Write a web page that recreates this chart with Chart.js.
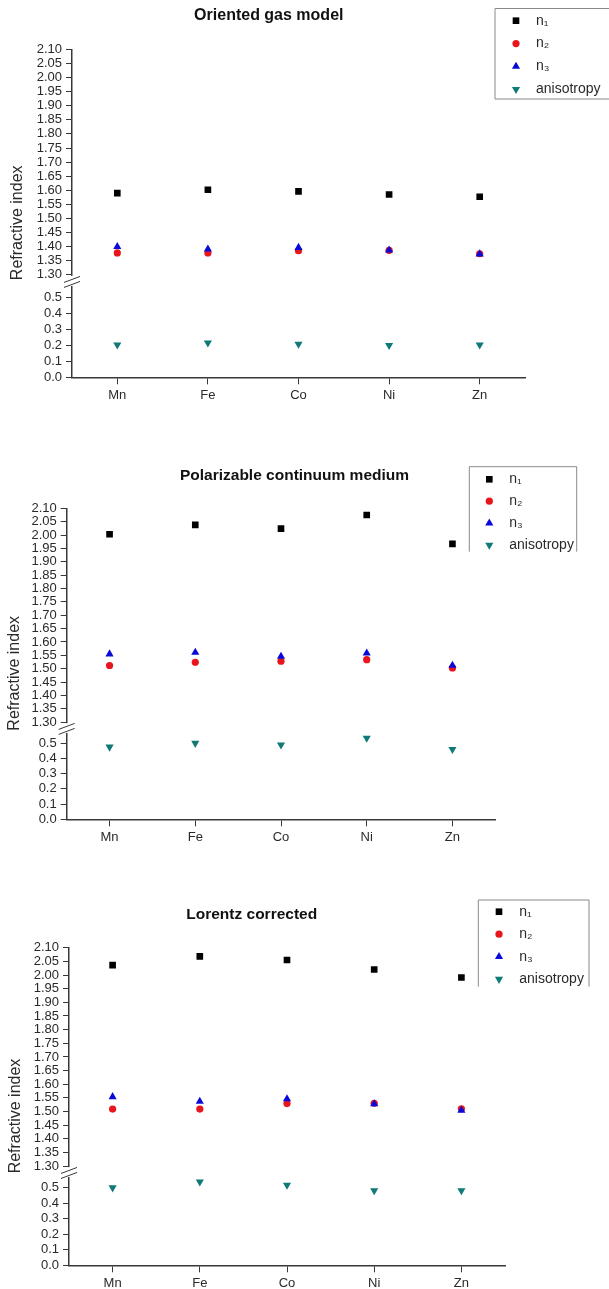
<!DOCTYPE html>
<html><head><meta charset="utf-8">
<script src="https://cdn.jsdelivr.net/npm/chart.js@4.4.1/dist/chart.umd.min.js"></script>
<style>
html,body{margin:0;padding:0;background:#fff;}
body{width:609px;height:1289px;position:relative;overflow:hidden;}
canvas{position:absolute;left:0;}
</style></head><body>
<canvas id="c1" width="609" height="430" style="top:0px"></canvas>
<canvas id="c2" width="609" height="430" style="top:430px"></canvas>
<canvas id="c3" width="609" height="440" style="top:860px"></canvas>
<script>
// ---------- data ----------
const categories = ['Mn', 'Fe', 'Co', 'Ni', 'Zn'];
const seriesLabels = ['n₁', 'n₂', 'n₃', 'anisotropy'];
const upperTicks = [1.30, 1.35, 1.40, 1.45, 1.50, 1.55, 1.60, 1.65, 1.70, 1.75, 1.80, 1.85, 1.90, 1.95, 2.00, 2.05, 2.10];
const lowerTicks = [0.0, 0.1, 0.2, 0.3, 0.4, 0.5];
const panelTitles = ['Oriented gas model', 'Polarizable continuum medium', 'Lorentz corrected'];
const yAxisTitle = 'Refractive index';

// Oriented gas model
const ogm_n1 = [1.590, 1.602, 1.596, 1.585, 1.577];
const ogm_n2 = [1.378, 1.378, 1.386, 1.387, 1.375];
const ogm_n3 = [1.400, 1.391, 1.397, 1.388, 1.374];
const ogm_aniso = [0.203, 0.215, 0.207, 0.199, 0.203];

// Polarizable continuum medium
const pcm_n1 = [2.003, 2.038, 2.024, 2.075, 1.967];
const pcm_n2 = [1.512, 1.524, 1.528, 1.534, 1.503];
const pcm_n3 = [1.555, 1.561, 1.546, 1.558, 1.512];
const pcm_aniso = [0.476, 0.501, 0.490, 0.534, 0.461];

// Lorentz corrected
const lc_n1 = [2.036, 2.068, 2.055, 2.020, 1.991];
const lc_n2 = [1.509, 1.509, 1.529, 1.530, 1.510];
const lc_n3 = [1.554, 1.537, 1.546, 1.528, 1.504];
const lc_aniso = [0.500, 0.538, 0.517, 0.481, 0.481];

// ---------- styles / layout ----------
const upperMin = 1.275, lowerMax = 0.595;
const markerStyles = [
  {pointStyle: 'rect', radius: 4.7, color: '#000000', rotation: 0, order: 3},
  {pointStyle: 'circle', radius: 3.6, color: '#e8151c', rotation: 0, order: 2},
  {pointStyle: 'triangle', radius: 4.7, color: '#0a0ad8', rotation: 0, order: 1},
  {pointStyle: 'triangle', radius: 4.7, color: '#0f7a78', rotation: 180, order: 0}
];
const TEXT = '#2a2a2a';
const AXIS = '#383838';

const panels = [
  {id: 'c1', top: 0, h: 430, title: panelTitles[0], series: [ogm_n1, ogm_n2, ogm_n3, ogm_aniso],
   area: {l: 72, r: 525, t: 49.3, b: 377.3}, titleX: 268.8, titleY: 16, titleSize: 16, yTitleX: 18,
   legend: {l: 495, t: 8.5, r: 640, b: 99, mx: 516, tx: 536, y0: 20.7, dy: 22.9, bottom: true}},
  {id: 'c2', top: 430, h: 430, title: panelTitles[1], series: [pcm_n1, pcm_n2, pcm_n3, pcm_aniso],
   area: {l: 66.7, r: 495.3, t: 508.3, b: 819.3}, titleX: 294.5, titleY: 476, titleSize: 15.5, yTitleX: 14.5,
   legend: {l: 469.3, t: 466.7, r: 576.7, b: 551.7, mx: 489.3, tx: 509.3, y0: 479.3, dy: 21.9, bottom: false}},
  {id: 'c3', top: 860, h: 440, title: panelTitles[2], series: [lc_n1, lc_n2, lc_n3, lc_aniso],
   area: {l: 69, r: 505, t: 947.7, b: 1265.3}, titleX: 251.7, titleY: 915, titleSize: 15.5, yTitleX: 16,
   legend: {l: 478.3, t: 900, r: 589, b: 986.7, mx: 499, tx: 519.3, y0: 911.7, dy: 22.5, bottom: false}}
];

function drawMarker(ctx, style, x, y, r, rotation, color) {
  ctx.save();
  ctx.fillStyle = color;
  ctx.beginPath();
  if (style === 'rect') {
    const s = Math.SQRT1_2 * r;
    ctx.rect(x - s, y - s, 2 * s, 2 * s);
  } else if (style === 'circle') {
    ctx.arc(x, y, r, 0, Math.PI * 2);
  } else {
    let rad = rotation * Math.PI / 180;
    ctx.moveTo(x + Math.sin(rad) * r, y - Math.cos(rad) * r);
    rad += 2 * Math.PI / 3;
    ctx.lineTo(x + Math.sin(rad) * r, y - Math.cos(rad) * r);
    rad += 2 * Math.PI / 3;
    ctx.lineTo(x + Math.sin(rad) * r, y - Math.cos(rad) * r);
    ctx.closePath();
  }
  ctx.fill();
  ctx.restore();
}

const decorPlugin = {
  id: 'decor',
  afterDraw(chart, args, opts) {
    const p = opts.panel;
    const ctx = chart.ctx;
    const ca = chart.chartArea;
    const yT = chart.scales.yTop, yB = chart.scales.yBot;
    ctx.save();
    // axis break
    const L = ca.left;
    const yb = Math.max(yT.bottom, yB.top);
    const y130 = yT.getPixelForValue(upperTicks[0]);
    ctx.fillStyle = '#ffffff';
    ctx.fillRect(L - 3, y130 + 1, 6, (yb + 4) - (y130 + 1));
    ctx.strokeStyle = AXIS;
    ctx.lineWidth = 1;
    ctx.beginPath();
    [-2.5, 2.5].forEach(d => {
      ctx.moveTo(L - 8, yb + d + 3);
      ctx.lineTo(L + 8, yb + d - 3);
    });
    ctx.stroke();
    // title
    ctx.fillStyle = '#111111';
    ctx.font = 'bold ' + p.titleSize + 'px "Liberation Sans", Arial, sans-serif';
    ctx.textAlign = 'center';
    ctx.textBaseline = 'middle';
    ctx.fillText(p.title, p.titleX, p.titleY - p.top);
    // y axis title
    ctx.save();
    ctx.translate(p.yTitleX, (ca.top + ca.bottom) / 2 + 9.5);
    ctx.rotate(-Math.PI / 2);
    ctx.fillStyle = TEXT;
    ctx.font = '16px "Liberation Sans", Arial, sans-serif';
    ctx.textAlign = 'center';
    ctx.textBaseline = 'middle';
    ctx.fillText(yAxisTitle, 0, 0);
    ctx.restore();
    // legend
    const lg = p.legend;
    const t = lg.t - p.top, b = lg.b - p.top;
    ctx.strokeStyle = '#8a8a8a';
    ctx.lineWidth = 1;
    ctx.beginPath();
    ctx.moveTo(lg.l, b);
    ctx.lineTo(lg.l, t);
    ctx.lineTo(lg.r, t);
    ctx.lineTo(lg.r, b);
    if (lg.bottom) ctx.lineTo(lg.l, b);
    ctx.stroke();
    ctx.font = '14px "Liberation Sans", Arial, sans-serif';
    ctx.textAlign = 'left';
    ctx.textBaseline = 'middle';
    chart.data.datasets.forEach((ds, i) => {
      const y = lg.y0 - p.top + i * lg.dy;
      const ms = markerStyles[i];
      drawMarker(ctx, ms.pointStyle, lg.mx, y, ms.radius, ms.rotation, ms.color);
      ctx.fillStyle = TEXT;
      ctx.fillText(ds.label, lg.tx, y);
    });
    ctx.restore();
  }
};

panels.forEach(p => {
  const a = {l: p.area.l, r: p.area.r, t: p.area.t - p.top, b: p.area.b - p.top};
  const xAxisH = 26;
  const datasets = p.series.map((vals, i) => {
    const ms = markerStyles[i];
    return {
      label: seriesLabels[i],
      data: vals,
      yAxisID: i < 3 ? 'yTop' : 'yBot',
      showLine: false,
      pointStyle: ms.pointStyle,
      pointRotation: ms.rotation,
      pointRadius: ms.radius,
      pointHoverRadius: ms.radius,
      backgroundColor: ms.color,
      borderColor: ms.color,
      pointBorderWidth: 0,
      order: ms.order
    };
  });
  const tickFont = {family: '"Liberation Sans", Arial, sans-serif', size: 13};
  new Chart(document.getElementById(p.id), {
    type: 'line',
    data: {labels: categories, datasets},
    plugins: [decorPlugin],
    options: {
      responsive: false,
      animation: false,
      devicePixelRatio: 1,
      layout: {padding: {left: 0, right: 609 - a.r, top: a.t, bottom: p.h - a.b - xAxisH}},
      plugins: {
        legend: {display: false},
        tooltip: {enabled: false},
        title: {display: false},
        decor: {panel: p}
      },
      scales: {
        x: {
          type: 'category',
          offset: true,
          grid: {offset: false, drawOnChartArea: false, drawTicks: true, tickLength: 7, color: AXIS, lineWidth: 1},
          border: {display: true, color: AXIS, width: 1.5},
          ticks: {color: TEXT, font: {family: '"Liberation Sans", Arial, sans-serif', size: 13}, padding: 3, maxRotation: 0, autoSkip: false},
          afterFit: s => { s.height = xAxisH; }
        },
        yBot: {
          type: 'linear',
          position: 'left',
          stack: 'y',
          stackWeight: 1,
          min: lowerTicks[0],
          max: lowerMax,
          afterBuildTicks: s => { s.ticks = lowerTicks.map(v => ({value: v})); },
          ticks: {color: TEXT, font: tickFont, padding: 4, autoSkip: false, callback: v => Number(v).toFixed(1)},
          grid: {drawOnChartArea: false, drawTicks: true, tickLength: 6, color: AXIS, lineWidth: 1},
          border: {display: true, color: AXIS, width: 1.5},
          afterFit: s => { s.width = a.l; }
        },
        yTop: {
          type: 'linear',
          position: 'left',
          stack: 'y',
          stackWeight: 2.44,
          min: upperMin,
          max: upperTicks[upperTicks.length - 1],
          afterBuildTicks: s => { s.ticks = upperTicks.map(v => ({value: v})); },
          ticks: {color: TEXT, font: tickFont, padding: 4, autoSkip: false, callback: v => Number(v).toFixed(2)},
          grid: {drawOnChartArea: false, drawTicks: true, tickLength: 6, color: AXIS, lineWidth: 1},
          border: {display: true, color: AXIS, width: 1.5},
          afterFit: s => { s.width = a.l; }
        }
      }
    }
  });
});
</script>
</body></html>
